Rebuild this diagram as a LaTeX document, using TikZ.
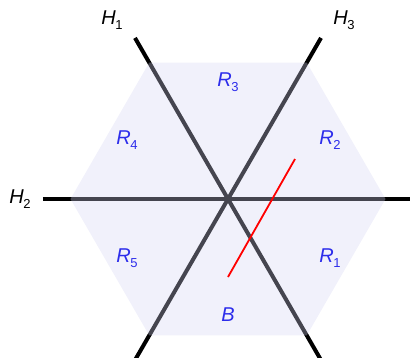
\documentclass[tikz,border=0pt]{standalone}
\usepackage{fontspec}
\setmainfont{Liberation Sans}
\usetikzlibrary{positioning}
\definecolor{regionblue}{RGB}{45,45,235}
\definecolor{hexfill}{RGB}{212,212,242}
\newcommand{\sublbl}[2]{\textit{#1}\kern-0.5pt\raisebox{-0.45ex}{\fontsize{13}{13}\selectfont #2}}

\begin{document}
\begin{tikzpicture}[x=1pt,y=1pt,
    every node/.style={font=\fontsize{20}{20}\selectfont},
    hyper/.style={line width=4pt,black},
    region/.style={text=regionblue},
    cut/.style={line width=1.8pt,red}]
    \useasboundingbox (-228,-158) rectangle (183,199);
    \coordinate (O) at (0,0);
    % the three lines
    \coordinate (h1a) at (120:186);
    \coordinate (h1b) at (300:186);
    \coordinate (h2a) at (180:185);
    \coordinate (h2b) at (0:182);
    \coordinate (h3a) at (60:186);
    \coordinate (h3b) at (240:186);
    \draw[hyper] (h1a) -- (h1b);
    \draw[hyper] (h2a) -- (h2b);
    \draw[hyper] (h3a) -- (h3b);
    % hexagon on top
    \fill[hexfill,opacity=0.33] (0:157.5) -- (60:157.5) -- (120:157.5) -- (180:157.5)
      -- (240:157.5) -- (300:157.5) -- cycle;
    % red segment
    \coordinate (p) at (67,40);
    \coordinate (q) at (0,-78);
    \draw[cut] (p) -- (q);
    \node (H1) at (-116,179) {\sublbl{H}{1}};
    \node (H3) at (116,179) {\sublbl{H}{3}};
    \node (H2) at (-208,0) {\sublbl{H}{2}};
    \node[region] (R3) at (0,117) {\sublbl{R}{3}};
    \node[region] (R2) at (102,59) {\sublbl{R}{2}};
    \node[region] (R4) at (-101,59) {\sublbl{R}{4}};
    \node[region] (R5) at (-101,-59) {\sublbl{R}{5}};
    \node[region] (R1) at (102,-59) {\sublbl{R}{1}};
    \node[region] (B) at (0,-116) {\textit{B}};
\end{tikzpicture}
\end{document}
